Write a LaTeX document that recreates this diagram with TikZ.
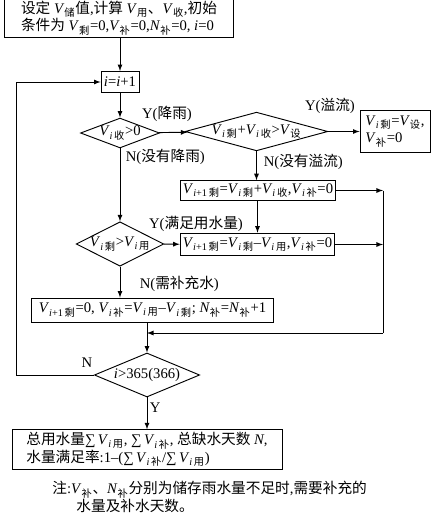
\documentclass[tikz,border=0pt]{standalone}
\usepackage{fontspec}
\setmainfont{Liberation Serif}
\newfontfamily\cjk{Noto Sans CJK SC}
\usetikzlibrary{shapes,arrows,positioning,calc}
\newcommand{\zh}[1]{{\cjk #1}}
\newcommand{\Vs}[1]{\textit{V}\textsubscript{\zh{#1}}}
\newcommand{\Vi}[1]{\textit{V}\textsubscript{\textit{i}\,\zh{#1}}}
\newcommand{\Vn}[1]{\textit{V}\textsubscript{\textit{i}+1\,\zh{#1}}}
\newcommand{\Nb}{\textit{N}\textsubscript{\zh{补}}}
\newcommand{\sm}{∑\,}

\begin{document}
\begin{tikzpicture}[x=0.75pt, y=-0.75pt, >=latex, line width=0.7pt,
    font=\fontsize{11}{13}\selectfont,
    box/.style={draw, inner sep=2pt},
    cond/.style={draw, shape=diamond, inner sep=0pt},
    lbl/.style={inner sep=1pt}]
    \useasboundingbox (0,0) rectangle (438,518);

    % Start and counter
    \node[box, align=left, minimum width=172pt, minimum height=25.5pt] (start) at (119,18)
        {\zh{设定} \Vs{储}\zh{值},\zh{计算} \Vs{用}\zh{、}\Vs{收},\zh{初始}\\
         \zh{条件为} \Vs{剩}=0,\Vs{补}=0,\Nb=0, \textit{i}=0};
    \node[box, minimum width=28.5pt, minimum height=15.75pt] (ibox) at (120,82) {\textit{i}=\textit{i}+1};

    % Rain checks
    \node[cond, aspect=2.64, minimum width=55.5pt, minimum height=21pt] (rain) at (120,133) {\Vi{收}>0};
    \node[cond, aspect=3.69, minimum width=107pt, minimum height=29pt] (spill) at (256.5,131.5) {\Vi{剩}+\Vi{收}>\Vs{设}};
    \node[box, align=left, minimum width=52.5pt, minimum height=32pt] (full) at (395,131.5)
        {\Vi{剩}=\Vs{设},\\ \Vs{补}=0};
    \node[box, minimum width=114pt, minimum height=14.25pt] (store) at (258,190.5) {\Vn{剩}=\Vi{剩}+\Vi{收},\Vi{补}=0};

    % Use checks
    \node[cond, aspect=1.97, minimum width=65pt, minimum height=33pt] (use) at (120,244) {\Vi{剩}>\Vi{用}};
    \node[box, minimum width=116pt, minimum height=17pt] (supply) at (257.5,244.5) {\Vn{剩}=\Vi{剩}--\Vi{用},\Vi{补}=0};
    \node[box, minimum width=181pt, minimum height=18pt] (refill) at (152.5,310)
        {\Vn{剩}=0, \Vi{补}=\Vi{用}--\Vi{剩}; \Nb=\Nb+1};

    % End of year
    \node[cond, aspect=2.4, minimum width=79pt, minimum height=33pt] (year) at (147,375) {\textit{i}>365(366)};
    \node[box, align=left, minimum width=202.5pt, minimum height=29pt] (result) at (147,449.5)
        {\zh{总用水量}\sm\Vi{用}, \sm\Vi{补}, \zh{总缺水天数} \textit{N},\\
         \zh{水量满足率}:1--(\sm\Vi{补}/\sm\Vi{用})};
    \node[anchor=north west, align=left, inner sep=0pt] (note) at (52,481)
        {\zh{注}:\Vs{补}\zh{、}\Nb\zh{分别为储存雨水量不足时},\zh{需要补充的}\\
         \hspace*{18pt}\zh{水量及补水天数。}};

    % Branch labels
    \node[lbl] (yrain) at (167,114) {Y(\zh{降雨})};
    \node[lbl] (yspill) at (330,106) {Y(\zh{溢流})};
    \node[lbl, right] (nspill) at (262,162) {N(\zh{没有溢流})};
    \node[lbl, right] (nrain) at (124,157) {N(\zh{没有降雨})};
    \node[lbl] (yuse) at (196,224) {Y(\zh{满足用水量})};
    \node[lbl, right] (nuse) at (138,284) {N(\zh{需补充水})};
    \node[lbl] (nyear) at (87,363) {N};
    \node[lbl, right] (yyear) at (148,408) {Y};

    % Connectors
    \coordinate (rail) at (383,333);
    \coordinate (back) at (16,375);
    \draw[->] (start.south -| ibox.north) -- (ibox.north);
    \draw[->] (ibox) -- (rain);
    \draw[->] (rain) -- (spill);
    \draw[->] (spill) -- (full);
    \draw[->] (spill.south) -- (spill.south |- store.north);
    \draw[->] (store.south -| supply.north) -- (supply.north);
    \draw[->] (rain) -- (use);
    \draw[->] (use) -- (supply);
    \draw[->] (use) -- (refill.north -| use.south);
    \draw[->] (store.east) -- (store.east -| rail);
    \draw[->] (supply.east) -- (supply.east -| rail);
    \draw (store.east -| rail) -- (rail);
    \draw[->] (rail) -- (rail -| year.north);
    \draw[->] (refill.south -| year.north) -- (year.north);
    \draw[->] (year.west) -- (back) -- (back |- ibox.west) -- (ibox.west);
    \draw[->] (year) -- (result);
\end{tikzpicture}
\end{document}
